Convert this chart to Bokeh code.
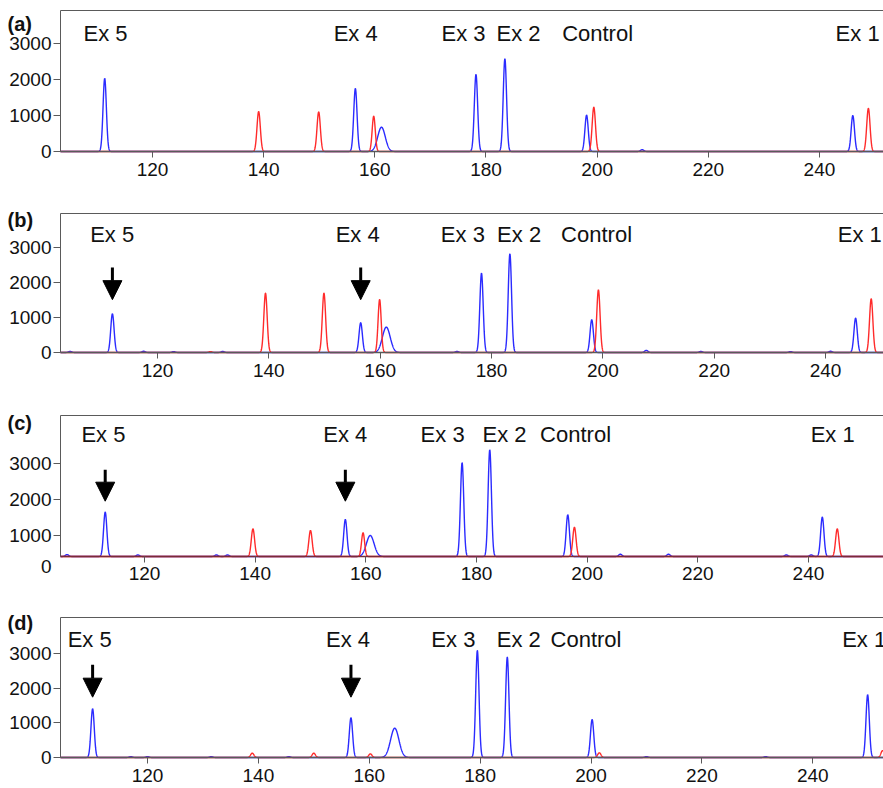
import numpy as np
from bokeh.plotting import figure
from bokeh.models import (ColumnDataSource, FixedTicker, LinearAxis, Range1d, Label,
                          Arrow, NormalHead)
from bokeh.layouts import column
from bokeh.embed import file_html
from bokeh.resources import INLINE
from bokeh.core.properties import value

# ---------------- data (fragment size in bp, peak height in RFU) ----------------
x_ticks = [120, 140, 160, 180, 200, 220, 240]
y_ticks = [0, 1000, 2000, 3000]
exon_labels = ["Ex 5", "Ex 4", "Ex 3", "Ex 2", "Control", "Ex 1"]

# panel (a)
a_blue_pos = [111.4, 156.5, 161.2, 178.2, 183.4, 198.1, 208.1, 246.0]
a_blue_h = [2030, 1750, 675, 2140, 2575, 1010, 50, 1000]
a_blue_sd = [0.3, 0.3, 0.68, 0.3, 0.3, 0.3, 0.3, 0.3]
a_red_pos = [139.1, 149.9, 159.8, 199.4, 248.8]
a_red_h = [1110, 1100, 980, 1230, 1200]
a_red_sd = [0.3, 0.3, 0.28, 0.3, 0.3]
a_label_x = [107.6, 152.6, 172.0, 181.9, 193.7, 242.9]

# panel (b)
b_blue_pos = [104.3, 111.9, 117.5, 122.9, 131.7, 156.5, 161.1, 173.8, 178.2, 183.3, 198.0, 207.8, 217.6, 233.7, 240.9, 245.4]
b_blue_h = [30, 1105, 35, 25, 30, 850, 725, 30, 2265, 2820, 935, 60, 30, 25, 35, 980]
b_blue_sd = [0.3, 0.3, 0.3, 0.3, 0.3, 0.3, 0.7, 0.3, 0.3, 0.3, 0.3, 0.3, 0.3, 0.3, 0.3, 0.3]
b_red_pos = [129.5, 139.4, 149.9, 159.9, 199.2, 248.2]
b_red_h = [25, 1695, 1695, 1515, 1790, 1535]
b_red_sd = [0.3, 0.3, 0.3, 0.28, 0.3, 0.3]
b_label_x = [107.9, 152.0, 170.9, 181.0, 192.5, 242.2]
b_arrow_x = [111.9, 156.5]

# panel (c)  (trace baseline sits at ~417 RFU)
c_blue_pos = [106.0, 112.9, 118.8, 133.0, 135.0, 156.3, 160.8, 177.4, 182.4, 196.5, 206.0, 214.7, 236.0, 240.5, 242.5]
c_blue_h = [470, 1650, 460, 460, 460, 1445, 1000, 3020, 3380, 1575, 480, 480, 460, 460, 1510]
c_blue_sd = [0.3, 0.3, 0.3, 0.3, 0.3, 0.3, 0.7, 0.3, 0.3, 0.3, 0.3, 0.3, 0.3, 0.3, 0.3]
c_red_pos = [139.6, 150.0, 159.5, 197.7, 245.2]
c_red_h = [1185, 1140, 1075, 1230, 1185]
c_red_sd = [0.3, 0.3, 0.28, 0.3, 0.3]
c_label_x = [108.6, 152.3, 169.9, 181.1, 191.5, 240.4]
c_arrow_x = [112.9, 156.3]

# panel (d)
d_blue_pos = [110.1, 117.0, 120.0, 131.5, 145.5, 156.7, 164.6, 179.5, 184.9, 200.2, 210.0, 231.5, 249.9]
d_blue_h = [1405, 25, 25, 25, 25, 1145, 845, 3085, 2895, 1095, 25, 25, 1810]
d_blue_sd = [0.3, 0.3, 0.3, 0.3, 0.3, 0.3, 0.75, 0.3, 0.3, 0.3, 0.3, 0.3, 0.3]
d_red_pos = [138.9, 150.0, 160.2, 201.5, 252.6]
d_red_h = [125, 125, 105, 135, 200]
d_red_sd = [0.3, 0.3, 0.3, 0.3, 0.3]
d_label_x = [105.6, 152.2, 171.2, 183.0, 192.7, 245.3]
d_arrow_x = [110.1, 156.7]

FONT = "Liberation Sans"
AX = "#5a5a5a"
BLUE = "#2b2bff"
RED = "#ff2b2b"


def trace(xs, pos, h, sd, base):
    y = np.full_like(xs, float(base))
    for p_, h_, s_ in zip(pos, h, sd):
        y = y + (h_ - base) * np.exp(-0.5 * ((xs - p_) / s_) ** 2)
    return y


def panel(letter, height, view_x, x_axis_at, view_y, y_bottom, y_top, blue, red,
          label_x, label_y, letter_y, arrow_x=None, arrow_y=None,
          xaxis_color=AX, zero_label_y=None, x_standoff=5):
    p = figure(width=883, height=height,
               x_range=Range1d(*view_x), y_range=Range1d(*view_y),
               output_backend="svg", toolbar_location=None,
               min_border_left=0, min_border_right=0,
               min_border_top=0, min_border_bottom=0)
    p.outline_line_color = None
    p.xgrid.visible = False
    p.ygrid.visible = False
    p.background_fill_color = "white"
    p.border_fill_color = "white"

    x_left, x_right = x_axis_at, view_x[1]

    yt = y_ticks if zero_label_y is None else y_ticks[1:]
    p.yaxis.ticker = FixedTicker(ticks=yt)
    p.xaxis.ticker = FixedTicker(ticks=x_ticks)
    for ax in (p.xaxis[0], p.yaxis[0]):
        ax.axis_line_color = AX
        ax.major_tick_line_color = AX
        ax.minor_tick_line_color = None
        ax.major_tick_in = 0
        ax.major_label_text_font = FONT
        ax.major_label_text_font_size = "19px"
        ax.major_label_text_color = "#111111"
    p.xaxis.fixed_location = y_bottom
    p.xaxis.bounds = (x_left, x_right)
    p.xaxis.axis_line_color = xaxis_color
    p.xaxis.axis_line_width = 1.3
    p.xaxis.major_tick_out = 6
    p.xaxis.major_label_standoff = x_standoff
    p.yaxis.fixed_location = x_left
    p.yaxis.bounds = (y_bottom, y_top)
    p.yaxis.major_tick_out = 7
    p.yaxis.major_label_standoff = 2

    top_ax = LinearAxis(ticker=FixedTicker(ticks=[]), axis_line_color=AX,
                        fixed_location=y_top, bounds=(x_left, x_right),
                        major_tick_out=0, major_tick_in=0, minor_tick_out=0,
                        minor_tick_in=0, major_label_standoff=0,
                        major_label_text_font_size="0px")
    p.add_layout(top_ax, "above")

    xs = np.arange(x_left, x_right, 0.03)
    p.line(xs, trace(xs, *blue, y_bottom), line_color=BLUE, line_width=1.4)
    p.line(xs, trace(xs, *red, y_bottom), line_color=RED, line_width=1.4)

    src = ColumnDataSource(dict(x=label_x, y=[label_y] * len(label_x), t=exon_labels))
    p.text(x="x", y="y", text="t", source=src, text_font=value(FONT),
           text_font_size="22px", text_color="#111111",
           text_align="left", text_baseline="alphabetic")

    p.add_layout(Label(x=view_x[0], y=letter_y, x_offset=7, text=letter,
                       text_font=FONT, text_font_size="20px", text_font_style="bold",
                       text_color="#111111", text_baseline="middle", text_align="left"))

    if zero_label_y is not None:
        p.add_layout(Label(x=x_left, y=zero_label_y, x_offset=-9, text="0",
                           text_font=FONT, text_font_size="19px",
                           text_color="#111111", text_baseline="middle",
                           text_align="right"))

    if arrow_x is not None:
        asrc = ColumnDataSource(dict(x=arrow_x, y0=[arrow_y[0]] * len(arrow_x),
                                     y1=[arrow_y[1]] * len(arrow_x)))
        p.add_layout(Arrow(end=NormalHead(size=19, fill_color="black", line_color="black",
                                          line_width=1),
                           x_start="x", y_start="y0", x_end="x", y_end="y1",
                           source=asrc, line_width=3, line_color="black"))
    return p


pa = panel("(a)", 208, (92.652, 251.52), 103.447, (-1583.3, 4194.4), 0, 3916.7,
           (a_blue_pos, a_blue_h, a_blue_sd), (a_red_pos, a_red_h, a_red_sd),
           a_label_x, 3278, 3530)
pb = panel("(b)", 203, (91.798, 250.41), 102.576, (-1685.7, 4114.3), 0, 3971.4,
           (b_blue_pos, b_blue_h, b_blue_sd), (b_red_pos, b_red_h, b_red_sd),
           b_label_x, 3372, 3800, b_arrow_x, (2430, 1510))
pc = panel("(c)", 201, (93.975, 253.56), 104.818, (-1138.9, 4444.4), 416.7, 4333.3,
           (c_blue_pos, c_blue_h, c_blue_sd), (c_red_pos, c_red_h, c_red_sd),
           c_label_x, 3805, 4130, c_arrow_x, (2825, 1953),
           xaxis_color="#7a2c36", zero_label_y=139)
pd = panel("(d)", 176, (93.485, 252.76), 104.307, (-894.2, 4182.7), 0, 4038.5,
           (d_blue_pos, d_blue_h, d_blue_sd), (d_red_pos, d_red_h, d_red_sd),
           d_label_x, 3404, 3880, d_arrow_x, (2674, 1740), x_standoff=5)

layout = column(pa, pb, pc, pd, spacing=0)
open("out.html", "w").write(file_html(layout, INLINE))
